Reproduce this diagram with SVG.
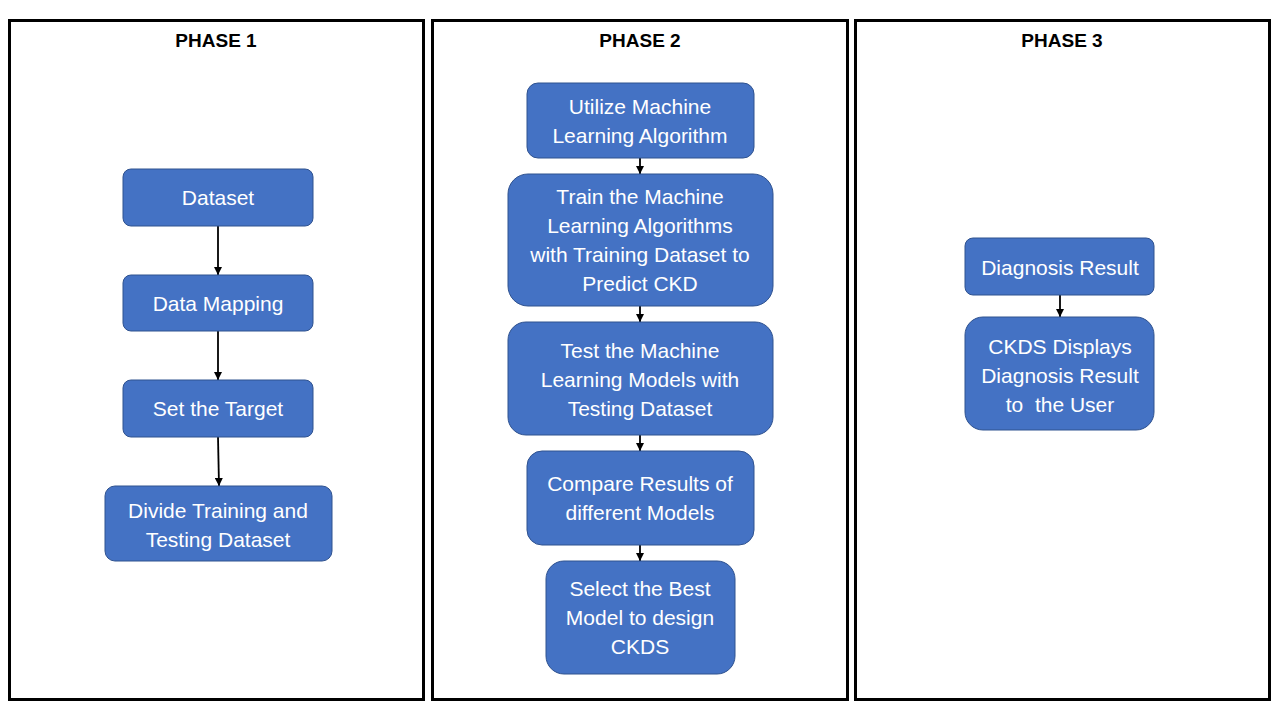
<svg xmlns="http://www.w3.org/2000/svg" width="1280" height="720" viewBox="0 0 1280 720">
<defs>
<style>
.panel{fill:#fff;stroke:#000;stroke-width:3}
.hdr{font-family:"Liberation Sans",Arial,sans-serif;font-weight:bold;font-size:19px;fill:#000;text-anchor:middle}
.box{fill:#4472C4;stroke:#2F528F;stroke-width:1}
.lbl{font-family:"Liberation Sans",Arial,sans-serif;font-size:21px;fill:#fff;text-anchor:middle}
.con{stroke:#000;stroke-width:1.8;fill:none;marker-end:url(#ah)}
</style>
<marker id="ah" viewBox="0 0 10 10" refX="10" refY="5" markerWidth="4.5" markerHeight="4.5" orient="auto" markerUnits="strokeWidth">
<path d="M0,0 L10,5 L0,10 z" fill="#000"/>
</marker>
</defs>
<rect width="1280" height="720" fill="#fff"/>
<g id="panels">
<rect class="panel" x="9.5" y="20.5" width="414" height="679"/>
<rect class="panel" x="432.5" y="20.5" width="415" height="679"/>
<rect class="panel" x="855.5" y="20.5" width="414" height="679"/>
<text class="hdr" x="216" y="47">PHASE 1</text>
<text class="hdr" x="640" y="47">PHASE 2</text>
<text class="hdr" x="1062" y="47">PHASE 3</text>
</g>
<g id="connectors">
<line class="con" x1="218" y1="226" x2="218" y2="275"/>
<line class="con" x1="218" y1="331" x2="218" y2="380"/>
<line class="con" x1="218" y1="437" x2="219" y2="486"/>
<line class="con" x1="640" y1="158" x2="640" y2="174"/>
<line class="con" x1="640" y1="306" x2="640" y2="322"/>
<line class="con" x1="640" y1="435" x2="640" y2="451"/>
<line class="con" x1="640" y1="545" x2="640" y2="561"/>
<line class="con" x1="1060" y1="295" x2="1060" y2="317"/>
</g>
<g id="n-dataset">
<rect class="box" x="123" y="169" width="190" height="57" rx="8"/>
<text class="lbl" x="218" y="205">Dataset</text>
</g>
<g id="n-mapping">
<rect class="box" x="123" y="275" width="190" height="56" rx="8"/>
<text class="lbl" x="218" y="311">Data Mapping</text>
</g>
<g id="n-target">
<rect class="box" x="123" y="380" width="190" height="57" rx="8"/>
<text class="lbl" x="218" y="416">Set the Target</text>
</g>
<g id="n-divide">
<rect class="box" x="105" y="486" width="227" height="75" rx="10"/>
<text class="lbl" x="218" y="518">Divide Training and</text>
<text class="lbl" x="218" y="547">Testing Dataset</text>
</g>
<g id="n-utilize">
<rect class="box" x="527" y="83" width="227" height="75" rx="11"/>
<text class="lbl" x="640" y="114">Utilize Machine</text>
<text class="lbl" x="640" y="143">Learning Algorithm</text>
</g>
<g id="n-train">
<rect class="box" x="508" y="174" width="265" height="132" rx="20"/>
<text class="lbl" x="640" y="204">Train the Machine</text>
<text class="lbl" x="640" y="233">Learning Algorithms</text>
<text class="lbl" x="640" y="262">with Training Dataset to</text>
<text class="lbl" x="640" y="291">Predict CKD</text>
</g>
<g id="n-test">
<rect class="box" x="508" y="322" width="265" height="113" rx="18"/>
<text class="lbl" x="640" y="358">Test the Machine</text>
<text class="lbl" x="640" y="387">Learning Models with</text>
<text class="lbl" x="640" y="416">Testing Dataset</text>
</g>
<g id="n-compare">
<rect class="box" x="527" y="451" width="227" height="94" rx="15"/>
<text class="lbl" x="640" y="491">Compare Results of</text>
<text class="lbl" x="640" y="520">different Models</text>
</g>
<g id="n-select">
<rect class="box" x="546" y="561" width="189" height="113" rx="18"/>
<text class="lbl" x="640" y="596">Select the Best</text>
<text class="lbl" x="640" y="625">Model to design</text>
<text class="lbl" x="640" y="654">CKDS</text>
</g>
<g id="n-diagnosis">
<rect class="box" x="965" y="238" width="189" height="57" rx="8"/>
<text class="lbl" x="1060" y="275">Diagnosis Result</text>
</g>
<g id="n-display">
<rect class="box" x="965" y="317" width="189" height="113" rx="18"/>
<text class="lbl" x="1060" y="354">CKDS Displays</text>
<text class="lbl" x="1060" y="383">Diagnosis Result</text>
<text class="lbl" x="1060" y="412" xml:space="preserve">to  the User</text>
</g>
</svg>
